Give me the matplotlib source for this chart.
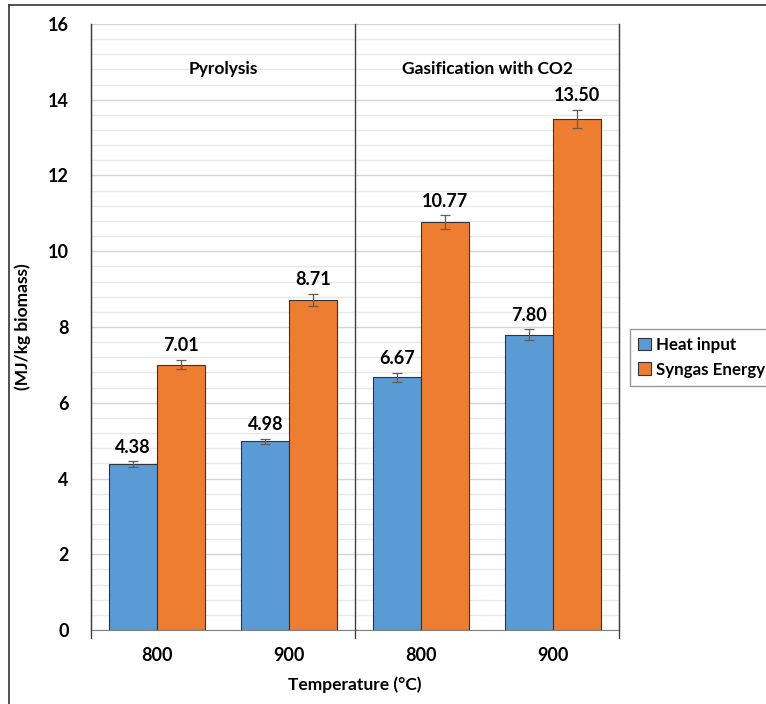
import numpy as np
import matplotlib.pyplot as plt
from matplotlib.lines import Line2D
from matplotlib.ticker import MultipleLocator

plt.rcParams['font.family'] = ['Lato', 'DejaVu Sans']
plt.rcParams['font.weight'] = 'bold'

# data
temps = ["800", "900", "800", "900"]
groups = ["Pyrolysis", "Gasification with CO2"]
heat_input = [4.38, 4.98, 6.67, 7.80]
heat_err = [0.07, 0.07, 0.12, 0.14]
syngas = [7.01, 8.71, 10.77, 13.50]
syngas_err = [0.12, 0.16, 0.18, 0.24]

blue = "#5B9BD5"
orange = "#ED7D31"

fig = plt.figure(figsize=(7.66, 7.04), dpi=100)
ax = fig.add_axes([0.1188, 0.105, 0.6893, 0.861])

x = np.arange(len(temps))
w = 0.36

ekw = dict(ecolor="#6b5a4e", elinewidth=0.9, capsize=3.5, capthick=0.9)
ax.bar(x - w / 2, heat_input, w, color=blue, edgecolor="#333333", linewidth=0.8,
       yerr=heat_err, error_kw=ekw, label="Heat input", zorder=3)
ax.bar(x + w / 2, syngas, w, color=orange, edgecolor="#333333", linewidth=0.8,
       yerr=syngas_err, error_kw=ekw, label="Syngas Energy", zorder=3)

# value labels above the error bars
for xi, v, e in zip(x - w / 2, heat_input, heat_err):
    ax.annotate(f"{v:.2f}", (xi, v + e), xytext=(0, 4), textcoords="offset points",
                ha="center", va="bottom", fontsize=13, fontweight="bold")
for xi, v, e in zip(x + w / 2, syngas, syngas_err):
    ax.annotate(f"{v:.2f}", (xi, v + e), xytext=(0, 4), textcoords="offset points",
                ha="center", va="bottom", fontsize=13, fontweight="bold")

# group titles
ax.text(0.5, 14.8, groups[0], ha="center", va="center", fontsize=12.5, fontweight="bold")
ax.text(2.5, 14.8, groups[1], ha="center", va="center", fontsize=12.5, fontweight="bold")

ax.set_xlim(-0.5, 3.5)
ax.set_ylim(0, 16)
ax.yaxis.set_major_locator(MultipleLocator(2))
ax.yaxis.set_minor_locator(MultipleLocator(0.4))
ax.grid(which="major", axis="y", color="#d4d4d4", linewidth=1.0, zorder=0)
ax.grid(which="minor", axis="y", color="#e8e8e8", linewidth=1.0, zorder=0)
ax.set_axisbelow(True)

ax.set_xticks(x)
ax.set_xticklabels(temps, fontsize=13, fontweight="bold")
ax.tick_params(axis="x", length=0, pad=12)
ax.tick_params(axis="y", which="both", length=0, pad=16, labelsize=13)
for lab in ax.get_yticklabels():
    lab.set_fontweight("bold")

ax.set_xlabel("Temperature (°C)", fontsize=12.5, fontweight="bold", labelpad=9)
ax.set_ylabel("(MJ/kg biomass)", fontsize=12.5, fontweight="bold", labelpad=12)

ax.spines["top"].set_visible(False)
ax.spines["left"].set_color("#404040")
ax.spines["right"].set_color("#404040")
ax.spines["bottom"].set_color("#808080")

# group separators, reaching a little below the axis
for xs in [-0.5, 1.5, 3.5]:
    ax.plot([xs, xs], [-0.2, 16], color="#404040", linewidth=1.0, clip_on=False, zorder=4)

leg = ax.legend(loc="center left", bbox_to_anchor=(1.02, 0.45), borderaxespad=0,
                fontsize=12.2, frameon=True, fancybox=False, edgecolor="#808080",
                handlelength=0.75, handleheight=0.75, handletextpad=0.3, borderpad=0.5,
                labelspacing=0.5)
for t in leg.get_texts():
    t.set_fontweight("bold")

# frame around the picture (top and left)
fig.add_artist(Line2D([9 / 766, 1], [1 - 5 / 704, 1 - 5 / 704], color="#333333", linewidth=1.2))
fig.add_artist(Line2D([9 / 766, 9 / 766], [0, 1 - 5 / 704], color="#333333", linewidth=1.2))

plt.savefig("out.png", dpi=100)
